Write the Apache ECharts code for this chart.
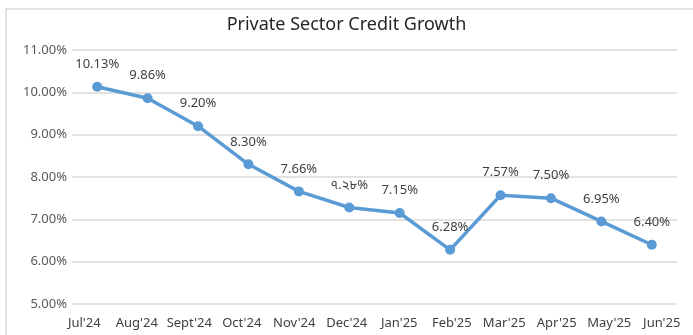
<!DOCTYPE html>
<html>
<head>
<meta charset="utf-8">
<script src="https://cdn.jsdelivr.net/npm/echarts@6/dist/echarts.min.js"></script>
<style>
  html, body { margin: 0; padding: 0; background: #fff; }
  #chart { width: 693px; height: 335px; }
</style>
</head>
<body>
<div id="chart"></div>
<script>
// Monthly private sector credit growth, Jul'24 – Jun'25 (%)
const months = ["Jul'24", "Aug'24", "Sept'24", "Oct'24", "Nov'24", "Dec'24",
                "Jan'25", "Feb'25", "Mar'25", "Apr'25", "May'25", "Jun'25"];
const growth = [10.13, 9.86, 9.20, 8.30, 7.66, 7.28, 7.15, 6.28, 7.57, 7.50, 6.95, 6.40];
const pointLabels = ["10.13%", "9.86%", "9.20%", "8.30%", "7.66%", "৭.২৮%",
                     "7.15%", "6.28%", "7.57%", "7.50%", "6.95%", "6.40%"];
const yTicks = [5, 6, 7, 8, 9, 10, 11];

const FONT = '"Noto Sans", "Noto Sans Bengali", "DejaVu Sans", sans-serif';
const chart = echarts.init(document.getElementById('chart'));

chart.setOption({
  animation: false,
  backgroundColor: '#ffffff',
  title: {
    text: 'Private Sector Credit Growth',
    left: 'center',
    top: 11,
    textStyle: { fontFamily: FONT, fontSize: 18, fontWeight: 'normal', color: '#262626' }
  },
  graphic: [{
    type: 'rect',
    shape: { x: 6, y: 9, width: 720, height: 400 },
    style: { fill: 'none', stroke: '#d9d9d9', lineWidth: 1.5 },
    silent: true
  }],
  grid: [
    { left: 72, right: 16, top: 50, bottom: 31 },
    { left: 58, right: 5, top: 50, bottom: 31 }
  ],
  xAxis: [
    {
      gridIndex: 0,
      type: 'category',
      data: months,
      boundaryGap: true,
      axisLine: { show: false },
      axisTick: { show: false },
      axisLabel: { show: false }
    },
    {
      gridIndex: 1,
      type: 'category',
      data: months,
      boundaryGap: true,
      axisLine: { show: false },
      axisTick: { show: false },
      axisLabel: { fontFamily: FONT, fontSize: 13, color: '#404040', margin: 13, interval: 0 }
    }
  ],
  yAxis: [
    {
      gridIndex: 0,
      type: 'value',
      min: yTicks[0],
      max: yTicks[yTicks.length - 1],
      interval: 1,
      axisLine: { show: false },
      axisTick: { show: false },
      splitLine: { lineStyle: { color: '#d9d9d9', width: 1.5 } },
      axisLabel: {
        fontFamily: FONT, fontSize: 13, color: '#595959', margin: 5,
        formatter: v => v.toFixed(2) + '%'
      }
    },
    {
      gridIndex: 1,
      type: 'value',
      min: yTicks[0],
      max: yTicks[yTicks.length - 1],
      show: false
    }
  ],
  series: [{
    type: 'line',
    xAxisIndex: 0,
    yAxisIndex: 0,
    data: growth,
    symbol: 'circle',
    symbolSize: 10,
    lineStyle: { color: '#5b9bd5', width: 3.5 },
    itemStyle: { color: '#5b9bd5' },
    label: {
      show: true,
      position: 'top',
      distance: 11,
      fontFamily: FONT,
      fontSize: 13,
      color: '#404040',
      formatter: p => pointLabels[p.dataIndex]
    }
  }]
});
</script>
</body>
</html>
